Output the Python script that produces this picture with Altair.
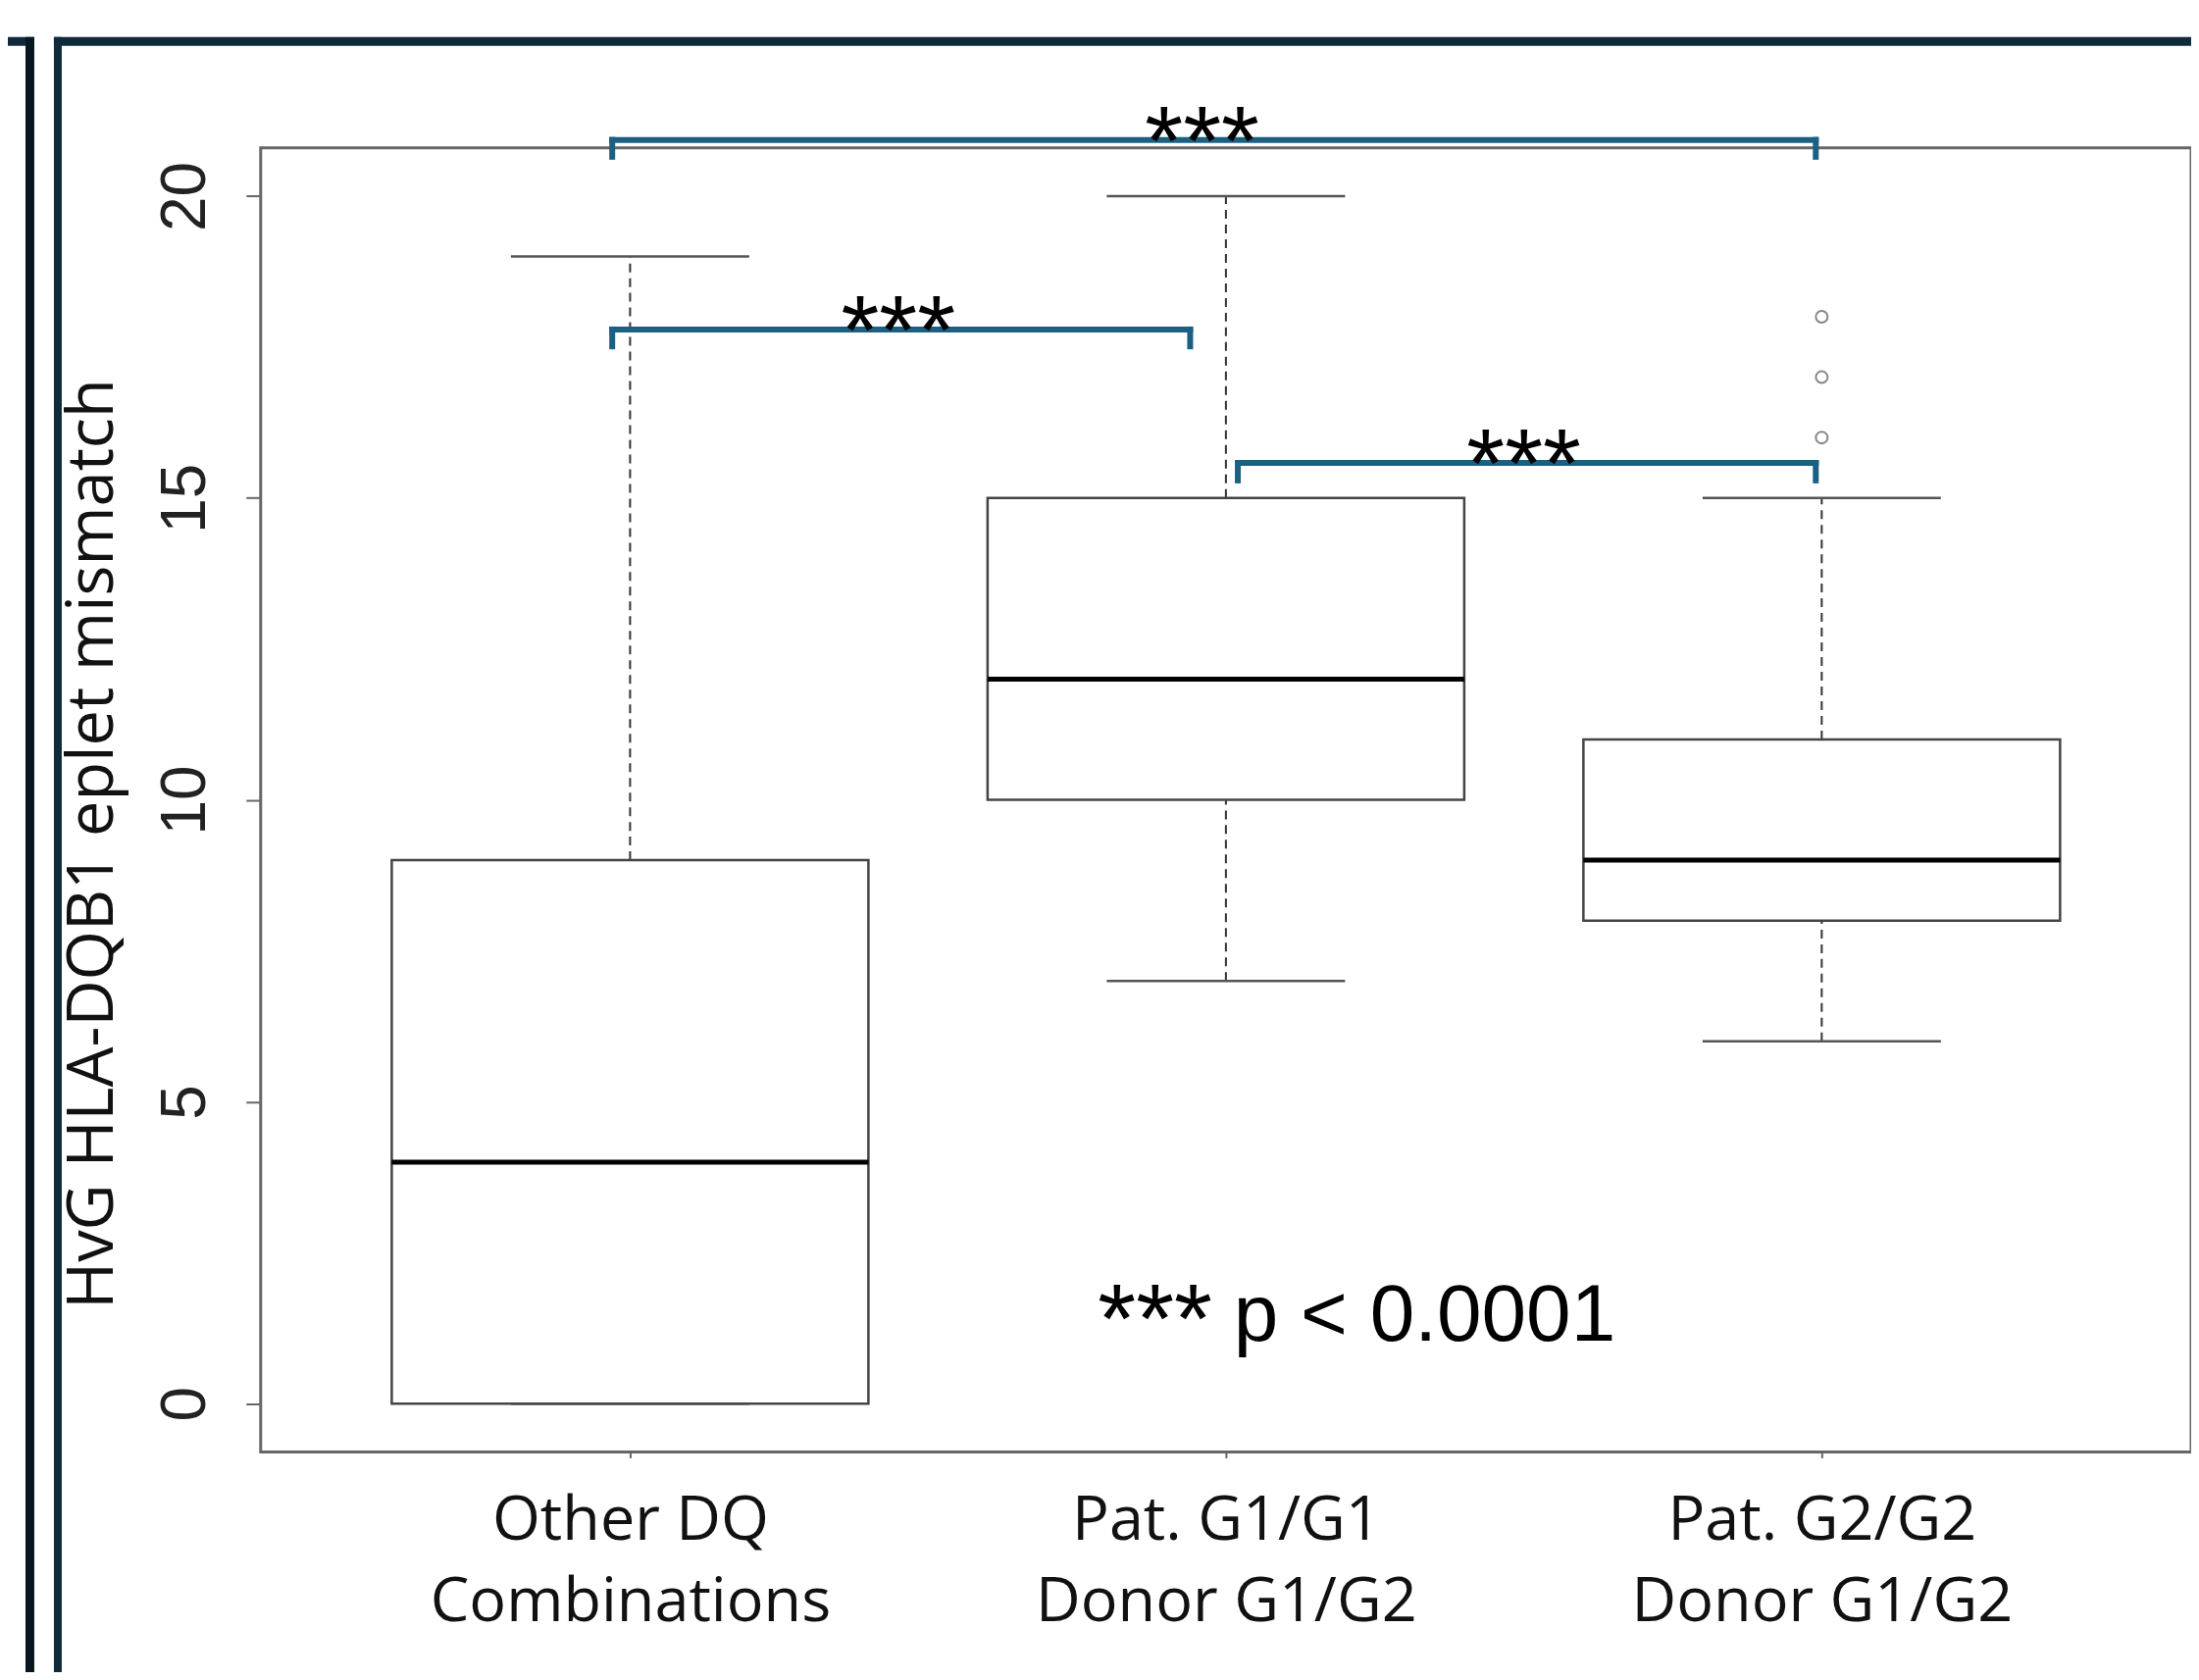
import altair as alt
import pandas as pd

# ---- data ----
categories = ["Other DQ\nCombinations", "Pat. G1/G1\nDonor G1/G2", "Pat. G2/G2\nDonor G1/G2"]
positions = [1, 2, 3]
whisker_low = [0, 7, 6]
q1 = [0, 10, 8]
median = [4, 12, 9]
q3 = [9, 15, 11]
whisker_high = [19, 20, 15]

outlier_pos = [3, 3, 3]
outlier_values = [16, 17, 18]

bracket_x1 = [0.97, 0.97, 2.02]
bracket_x2 = [2.99, 1.94, 2.99]
bracket_y = [20.93, 17.79, 15.58]
bracket_drop = [20.65, 17.51, 15.29]
star_x = [1.96, 1.45, 2.50]
star_label = ["***", "***", "***"]

note_stars = ["***"]
note_stars_x = [1.977]
note_stars_y = [0.84]
note_text = ["p < 0.0001"]
note_text_x = [2.013]
note_text_y = [1.05]

# ---- tables ----
boxes = pd.DataFrame({"cat": categories, "pos": positions, "lo": whisker_low, "q1": q1,
                      "med": median, "q3": q3, "hi": whisker_high})
outliers = pd.DataFrame({"pos": outlier_pos, "v": outlier_values})
brackets = pd.DataFrame({"x1": bracket_x1, "x2": bracket_x2, "y": bracket_y,
                         "yd": bracket_drop, "sx": star_x, "lab": star_label})
stars_df = pd.DataFrame({"x": note_stars_x, "y": note_stars_y, "t": note_stars})
ptext_df = pd.DataFrame({"x": note_text_x, "y": note_text_y, "t": note_text})

label_expr = "[" + ",".join(
    "[" + ",".join("'" + part + "'" for part in c.split("\n")) + "]" for c in categories
) + "][datum.value - 1]"

xscale = alt.Scale(domain=[0.38, 3.62], nice=False, zero=False)
yscale = alt.Scale(domain=[-0.8, 20.8], nice=False, zero=False)

xaxis = alt.Axis(values=positions, labelExpr=label_expr, labelFont="Open Sans",
                 labelFontSize=63, labelLineHeight=83, labelBaseline="alphabetic",
                 labelAlign="center", labelAngle=0, labelPadding=83, tickSize=6,
                 tickWidth=2, tickColor="#666666", domain=False, grid=False, title="",
                 labelColor="#111111", labelOverlap=False, labelFlush=False,
                 labelLimit=1000)
yaxis = alt.Axis(values=[0, 5, 10, 15, 20], labelAngle=270, labelAlign="center",
                 labelBaseline="alphabetic", labelFont="Liberation Sans", labelFontSize=64,
                 labelPadding=42, tickSize=15, tickWidth=2, tickColor="#666666",
                 domain=False, grid=False, labelColor="#222222",
                 title="HvG HLA-DQB1 eplet mismatch", titleFont="Open Sans",
                 titleFontSize=65, titleFontWeight="normal", titleAngle=270,
                 titleAlign="center", titleBaseline="alphabetic", titleX=-151,
                 titleY=710, titleColor="#111111", titleLimit=2000)


def X(f):
    return alt.X(f, type="quantitative", scale=xscale, axis=xaxis)


def Y(f):
    return alt.Y(f, type="quantitative", scale=yscale, axis=yaxis)


base = alt.Chart(boxes).transform_calculate(
    xl="datum.pos - 0.4", xr="datum.pos + 0.4",
    cl="datum.pos - 0.2", cr="datum.pos + 0.2")

dash = [9, 6]
w_up = base.mark_rule(color="#333333", strokeWidth=2, strokeDash=dash).encode(
    x=X("pos"), y=Y("q3"), y2="hi")
w_lo = base.mark_rule(color="#333333", strokeWidth=2, strokeDash=dash).encode(
    x=X("pos"), y=Y("lo"), y2="q1")
cap_up = base.mark_rule(color="#555555", strokeWidth=2.5).encode(
    x=X("cl"), x2="cr", y=Y("hi"))
cap_lo = base.mark_rule(color="#555555", strokeWidth=2.5).encode(
    x=X("cl"), x2="cr", y=Y("lo"))
box = base.mark_rect(fill="white", stroke="#444444", strokeWidth=2.5).encode(
    x=X("xl"), x2="xr", y=Y("q1"), y2="q3")
med = base.mark_rule(color="#000000", strokeWidth=5).encode(
    x=X("xl"), x2="xr", y=Y("med"))

outl = alt.Chart(outliers).mark_point(shape="circle", filled=False, size=144,
                                      color="#555555", strokeWidth=2).encode(
    x=X("pos"), y=Y("v"))

bcol = "#1b5f82"
b_h = alt.Chart(brackets).mark_rule(color=bcol, strokeWidth=6, strokeCap="square").encode(
    x=X("x1"), x2="x2", y=Y("y"))
b_l = alt.Chart(brackets).mark_rule(color=bcol, strokeWidth=6, strokeCap="square").encode(
    x=X("x1"), y=Y("y"), y2="yd")
b_r = alt.Chart(brackets).mark_rule(color=bcol, strokeWidth=6, strokeCap="square").encode(
    x=X("x2"), y=Y("y"), y2="yd")
b_t = alt.Chart(brackets).mark_text(font="Liberation Sans", fontSize=100, dy=35,
                                    baseline="alphabetic", align="center",
                                    color="#000000").encode(
    x=X("sx"), y=Y("y"), text="lab")

n_s = alt.Chart(stars_df).mark_text(font="Liberation Sans", fontSize=100,
                                    baseline="alphabetic", align="right",
                                    color="#000000").encode(
    x=X("x"), y=Y("y"), text="t")
n_p = alt.Chart(ptext_df).mark_text(font="Liberation Sans", fontSize=82,
                                    baseline="alphabetic", align="left",
                                    color="#000000").encode(
    x=X("x"), y=Y("y"), text="t")

# slide frame decorations (dark border lines of the screenshot)
dec = alt.Data(values=[{}])
navy = "#0f2a3a"
top_band_a = alt.Chart(dec).mark_rule(color=navy, strokeWidth=9).encode(
    x=alt.value(-258), x2=alt.value(-231), y=alt.value(-108.5))
top_band_b = alt.Chart(dec).mark_rule(color=navy, strokeWidth=9).encode(
    x=alt.value(-211), x2=alt.value(1970), y=alt.value(-108.5))
left_1 = alt.Chart(dec).mark_rule(color="#071820", strokeWidth=9).encode(
    x=alt.value(-235.5), y=alt.value(-113), y2=alt.value(1570))
left_2 = alt.Chart(dec).mark_rule(color=navy, strokeWidth=8).encode(
    x=alt.value(-207), y=alt.value(-113), y2=alt.value(1570))

chart = alt.layer(
    top_band_a, top_band_b, left_1, left_2,
    w_up, w_lo, cap_up, cap_lo, box, med, outl,
    b_h, b_l, b_r, b_t, n_s, n_p,
).properties(
    width=1970, height=1331,
    autosize=alt.AutoSizeParams(type="none"),
    padding={"left": 258, "top": 142, "right": 0, "bottom": 224},
    background="white",
).configure_view(stroke="#666666", strokeWidth=3)

chart.save("out.html", embed_options={"renderer": "svg", "actions": False})
